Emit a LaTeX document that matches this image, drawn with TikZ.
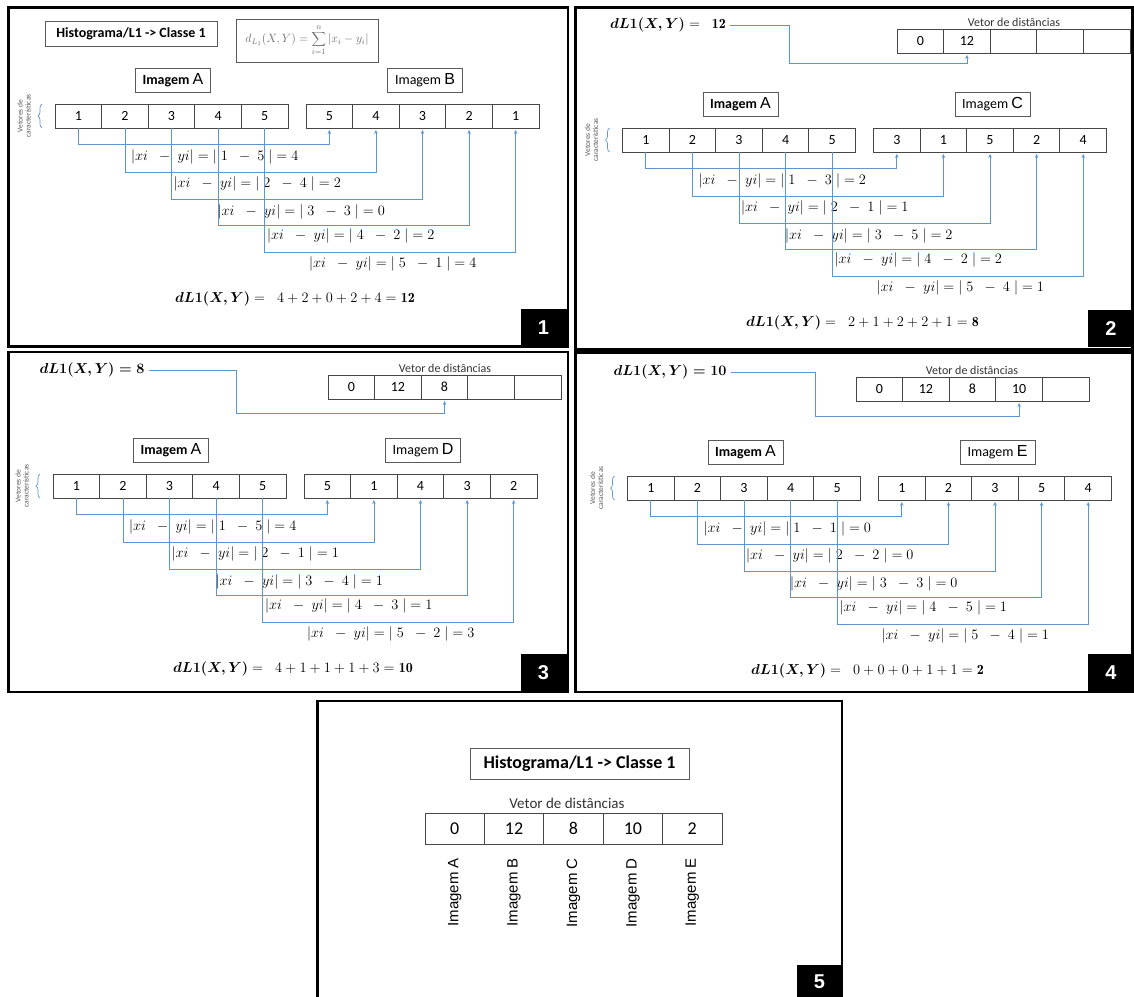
\documentclass[tikz,border=0pt]{standalone}
\usepackage{fontspec}
\usetikzlibrary{arrows.meta,decorations.pathreplacing}
\newfontfamily\carl{Carlito}
\newfontfamily\arial{Liberation Sans}
\definecolor{cblue}{RGB}{91,150,210}
\definecolor{cellgray}{RGB}{70,70,70}
\definecolor{boxgray}{RGB}{90,90,90}
\definecolor{vgray}{RGB}{90,90,90}
\definecolor{fgray}{RGB}{110,110,110}
\tikzset{
  cell/.style={draw=cellgray, line width=0.9pt, minimum width=46.6pt, minimum height=24pt, inner sep=0pt, font=\carl\fontsize{14}{16}\selectfont},
  bigcell/.style={cell, minimum width=59.4pt, minimum height=31pt, font=\carl\fontsize{18}{20}\selectfont},
  imgbox/.style={draw=boxgray, line width=0.9pt, minimum width=75pt, minimum height=24pt, inner sep=0pt, font=\carl\fontsize{14}{16}\selectfont},
  conn/.style={draw=cblue, line width=0.8pt, -{Stealth[length=4pt,width=3.5pt]}, shorten >=1.5pt},
  diff/.style={inner sep=0pt, anchor=west, font=\fontsize{14}{16}\selectfont},
  vlab/.style={rotate=90, align=center, text=vgray, font=\carl\fontsize{7.5}{8}\selectfont, inner sep=0pt},
  sumtxt/.style={font=\fontsize{14}{16}\selectfont, inner sep=0pt},
  toptxt/.style={font=\fontsize{14}{16}\selectfont, inner sep=4pt},
  frame/.style={draw=black, line width=2.6pt},
  numbox/.style={fill=black, text=white, font=\arial\bfseries\fontsize{20}{22}\selectfont, inner sep=0pt, minimum width=46pt, minimum height=37pt},
  vdlab/.style={font=\carl\fontsize{12}{14}\selectfont, text=black!80, inner sep=0pt},
  brc/.style={draw=cblue, line width=0.7pt, decorate, decoration={brace,amplitude=4pt}},
  histbox/.style={draw=boxgray, line width=0.9pt, inner sep=0pt, font=\carl\bfseries\fontsize{14}{16}\selectfont},
}
\newcommand{\featpanel}[6]{%
  \begin{scope}[shift={(#2,#3)}]
    \foreach \i in {1,...,5}
      \node[cell] (#1a\i) at ({23.3+46.6*(\i-1)},12) {\i};
    \foreach \v/\d [count=\i] in {#5}
      \node[cell] (#1b\i) at ({274.3+46.6*(\i-1)},12) {\v};
    \node[imgbox] (#1ia) at (118,-24) {\textbf{Imagem} {\arial\fontsize{16}{16}\selectfont A}};
    \node[imgbox] (#1ib) at (370,-24) {Imagem {\arial\fontsize{16}{16}\selectfont #4}};
    \draw[brc] (-13,24) -- (-13,0);
    \node[vlab] (#1vl) at (-31,12) {Vetores de\\características};
    \foreach \v/\d [count=\i] in {#5} {
      \pgfmathsetmacro\lev{{16,44,70.5,96.5,123.5}[\i-1]}
      \pgfmathsetmacro\lx{{76,118.5,162.5,212,254}[\i-1]}
      \pgfmathsetmacro\ly{{53,80,108,132,159.5}[\i-1]}
      \draw[conn] (#1a\i.south) -- ++(0,\lev) -| (#1b\i.south);
      \node[diff] (#1l\i) at (\lx,\ly) {$|xi\;\;-\;yi| = |\;\i\;\;-\;\v\;| = \d$};
    }
    \node[sumtxt] (#1sum) at (240,195) {{\boldmath$dL1(X,Y)$}$\;=\;\;#6$};
  \end{scope}}
\begin{document}
\begin{tikzpicture}[x=1pt,y=-1pt]
\useasboundingbox (0,0) rectangle (1134,996);
\fill[white] (0,0) rectangle (1134,996);
% frames
\draw[frame] (8.5,7.5) rectangle (568,346.5);
\draw[frame] (575.5,7.5) rectangle (1132.5,349.5);
\draw[frame] (8.5,352) rectangle (568,692);
\draw[frame] (575.5,352.5) rectangle (1132.5,692);
\draw[frame] (317.5,1000) -- (317.5,701) -- (842,701) -- (842,1000);
% number boxes
\node[numbox] (n1) at (543.5,327.5) {1};
\node[numbox] (n2) at (1111,328.5) {2};
\node[numbox] (n3) at (543.5,672.5) {3};
\node[numbox] (n4) at (1111,672.5) {4};
\node[numbox, minimum height=34pt] (n5) at (819.5,982) {5};

% ---------- panel 1
\node[histbox, minimum width=172pt, minimum height=25pt] (h1) at (131,33.5) {Histograma/L1 -> Classe 1};
\node[draw=boxgray, line width=0.9pt, minimum width=142pt, minimum height=43pt, inner sep=0pt, text=fgray, font=\fontsize{11.5}{13}\selectfont] (f1) at (307,40.5)
  {$d_{L_1}(X,Y)=\displaystyle\sum_{i=1}^{n}|x_i-y_i|$};
\featpanel{p1}{55}{104}{B}{5/4,4/2,3/0,2/2,1/4}{4+2+0+2+4=\mathbf{12}}

% ---------- panel 2
\featpanel{p2}{622.5}{128}{C}{3/2,1/1,5/2,2/2,4/1}{2+1+2+2+1=\mathbf{8}}
\node[vdlab] (p2vd) at (1014,22) {Vetor de distâncias};
\foreach \v [count=\i] in {0,12,{},{},{}}
  \node[cell] (p2d\i) at ({897+23.3+46.6*(\i-1)},41) {\v};
\node[toptxt] (p2top) at (668,25) {{\boldmath$dL1(X,Y)$}$\;=\;\;\mathbf{12}$};
\coordinate (p2bend) at (789,63);
\draw[conn] (p2top.east) -| (p2bend) -| (p2d2.south);

% ---------- panel 3
\featpanel{p3}{53}{474}{D}{5/4,1/1,4/1,3/1,2/3}{4+1+1+1+3=\mathbf{10}}
\node[vdlab] (p3vd) at (445,368) {Vetor de distâncias};
\foreach \v [count=\i] in {0,12,8,{},{}}
  \node[cell] (p3d\i) at ({328+23.3+46.6*(\i-1)},387) {\v};
\node[toptxt] (p3top) at (92,370) {{\boldmath$dL1(X,Y)=8$}};
\coordinate (p3bend) at (236,413);
\draw[conn] (p3top.east) -| (p3bend) -| (p3d3.south);

% ---------- panel 4
\featpanel{p4}{627.5}{476}{E}{1/0,2/0,3/0,5/1,4/1}{0+0+0+1+1=\mathbf{2}}
\node[vdlab] (p4vd) at (972,370) {Vetor de distâncias};
\foreach \v [count=\i] in {0,12,8,10,{}}
  \node[cell] (p4d\i) at ({856+23.3+46.6*(\i-1)},389) {\v};
\node[toptxt] (p4top) at (670,372) {{\boldmath$dL1(X,Y)=10$}};
\coordinate (p4bend) at (815,416);
\draw[conn] (p4top.east) -| (p4bend) -| (p4d4.south);

% ---------- panel 5
\node[histbox, minimum width=219pt, minimum height=31pt, font=\carl\bfseries\fontsize{18}{20}\selectfont] (h5) at (579.5,763.5) {Histograma/L1 -> Classe 1};
\node[vdlab, font=\carl\fontsize{15}{17}\selectfont] (p5vd) at (567,803) {Vetor de distâncias};
\foreach \v/\n [count=\i] in {0/A,12/B,8/C,10/D,2/E} {
  \node[bigcell] (p5d\i) at ({425+29.7+59.4*(\i-1)},828.5) {\v};
  \node[rotate=90, anchor=east, inner sep=0pt, font=\arial\fontsize{15}{17}\selectfont] (p5l\i) at ({425+29.7+59.4*(\i-1)},858) {Imagem \n};
}
\end{tikzpicture}
\end{document}
